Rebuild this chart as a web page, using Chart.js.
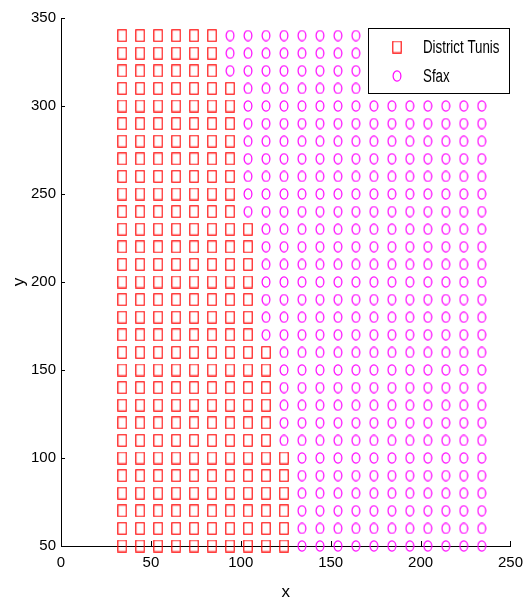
<!DOCTYPE html>
<html>
<head>
<meta charset="utf-8">
<script src="https://cdn.jsdelivr.net/npm/chart.js@4"></script>
<style>
  html, body { margin: 0; padding: 0; background: #fff; }
  #wrap { width: 531px; height: 601px; }
</style>
</head>
<body>
<div id="wrap"><canvas id="gridChart"></canvas></div>
<script>
// grid columns (x) and rows (y)
const xCols = [34, 44, 54, 64, 74, 84, 94, 104, 114, 124, 134, 144, 154, 164, 174, 184, 194, 204, 214, 224, 234];
const yRows = [50, 60, 70, 80, 90, 100, 110, 120, 130, 140, 150, 160, 170, 180, 190,
               200, 210, 220, 230, 240, 250, 260, 270, 280, 290, 300, 310, 320, 330, 340];
// per row: how many columns (from the left) belong to District Tunis
const tunisCount = [10, 10, 10, 10, 10, 10, 9, 9, 9, 9, 9, 9, 8, 8, 8,
                    8, 8, 8, 8, 7, 7, 7, 7, 7, 7, 7, 7, 6, 6, 6];
// per row: number of the last visible Sfax column
const sfaxLast = [21, 21, 21, 21, 21, 21, 21, 21, 21, 21, 21, 21, 21, 21, 21,
                  21, 21, 21, 21, 21, 21, 21, 21, 21, 21, 21, 14, 14, 14, 14];

const xTicks = [0, 50, 100, 150, 200, 250];
const yTicks = [50, 100, 150, 200, 250, 300, 350];

const seriesNames = ['District Tunis', 'Sfax'];

const fontFamily = "'Liberation Sans', Arial, sans-serif";

// build point lists
const tunisPts = [];
const sfaxPts = [];
yRows.forEach((y, r) => {
    xCols.forEach((x, c) => {
        if (c < tunisCount[r]) tunisPts.push({x: x, y: y});
        else if (c < sfaxLast[r]) sfaxPts.push({x: x, y: y});
    });
});

// markers are a bit taller than wide in the picture
function makeSquare() {
    const cv = document.createElement('canvas');
    cv.width = 10; cv.height = 13;
    const c = cv.getContext('2d');
    c.strokeStyle = '#ff0000';
    c.lineWidth = 1.1;
    c.strokeRect(0.8, 0.8, 8.4, 11.4);
    return cv;
}
function makeCircle() {
    const cv = document.createElement('canvas');
    cv.width = 10; cv.height = 12;
    const c = cv.getContext('2d');
    c.strokeStyle = '#ff00ff';
    c.lineWidth = 1.2;
    c.beginPath();
    c.ellipse(5, 6, 3.9, 5.1, 0, 0, Math.PI * 2);
    c.stroke();
    return cv;
}
const squareImg = makeSquare();
const circleImg = makeCircle();

// inward tick marks like the original
const innerTicks = {
    id: 'innerTicks',
    afterDraw(chart) {
        const {ctx, chartArea, scales} = chart;
        ctx.save();
        ctx.strokeStyle = '#000';
        ctx.lineWidth = 1;
        ctx.beginPath();
        xTicks.forEach(v => {
            const px = Math.round(scales.x.getPixelForValue(v)) + 0.5;
            ctx.moveTo(px, chartArea.bottom);
            ctx.lineTo(px, chartArea.bottom - 5);
        });
        yTicks.forEach(v => {
            const py = Math.round(scales.y.getPixelForValue(v)) + 0.5;
            ctx.moveTo(chartArea.left, py);
            ctx.lineTo(chartArea.left + 4, py);
        });
        ctx.stroke();
        ctx.restore();
    }
};

// boxed legend inside the plot, upper right
const boxLegend = {
    id: 'boxLegend',
    afterDraw(chart) {
        const ctx = chart.ctx;
        const bx = 368.5, by = 28.5, bw = 141, bh = 65;
        ctx.save();
        ctx.fillStyle = '#fff';
        ctx.fillRect(bx, by, bw, bh);
        ctx.strokeStyle = '#000';
        ctx.lineWidth = 1;
        ctx.strokeRect(bx, by, bw, bh);
        const imgs = [squareImg, circleImg];
        const rowsY = [47, 76];
        ctx.font = '18px ' + fontFamily;
        ctx.fillStyle = '#000';
        ctx.textBaseline = 'middle';
        chart.data.datasets.forEach((ds, i) => {
            const im = imgs[i];
            ctx.drawImage(im, 397 - im.width / 2, rowsY[i] - im.height / 2);
            // the original text is squeezed sideways
            ctx.save();
            ctx.translate(423, rowsY[i] + 1);
            ctx.scale(0.74, 1);
            ctx.fillText(ds.label, 0, 0);
            ctx.restore();
        });
        ctx.restore();
    }
};

new Chart(document.getElementById('gridChart'), {
    type: 'scatter',
    data: {
        datasets: [
            {
                label: seriesNames[0],
                data: tunisPts,
                pointStyle: squareImg,
                pointRadius: 5,
                clip: false
            },
            {
                label: seriesNames[1],
                data: sfaxPts,
                pointStyle: circleImg,
                pointRadius: 5,
                clip: false
            }
        ]
    },
    options: {
        responsive: true,
        maintainAspectRatio: false,
        animation: false,
        events: [],
        layout: { padding: { left: 0, right: 17, top: 18, bottom: 0 } },
        plugins: {
            legend: { display: false },
            tooltip: { enabled: false }
        },
        scales: {
            x: {
                type: 'linear',
                min: 0,
                max: 250,
                afterFit: s => { s.height = 55; },
                afterBuildTicks: s => { s.ticks = xTicks.map(v => ({value: v})); },
                grid: { display: false, drawTicks: false },
                border: { display: true, color: '#000', width: 1 },
                ticks: { color: '#000', padding: 8, font: { family: fontFamily, size: 15 } },
                title: {
                    display: true,
                    text: 'x',
                    color: '#000',
                    padding: { top: 0, bottom: -2 },
                    font: { family: fontFamily, size: 17 }
                }
            },
            y: {
                type: 'linear',
                min: 50,
                max: 350,
                afterFit: s => { s.width = 61; },
                afterBuildTicks: s => { s.ticks = yTicks.map(v => ({value: v})); },
                grid: { display: false, drawTicks: false },
                border: { display: true, color: '#000', width: 1 },
                ticks: { color: '#000', padding: 5, font: { family: fontFamily, size: 15 } },
                title: {
                    display: true,
                    text: 'y',
                    color: '#000',
                    padding: { top: 9, bottom: 0 },
                    font: { family: fontFamily, size: 17 }
                }
            }
        }
    },
    plugins: [innerTicks, boxLegend]
});
</script>
</body>
</html>
